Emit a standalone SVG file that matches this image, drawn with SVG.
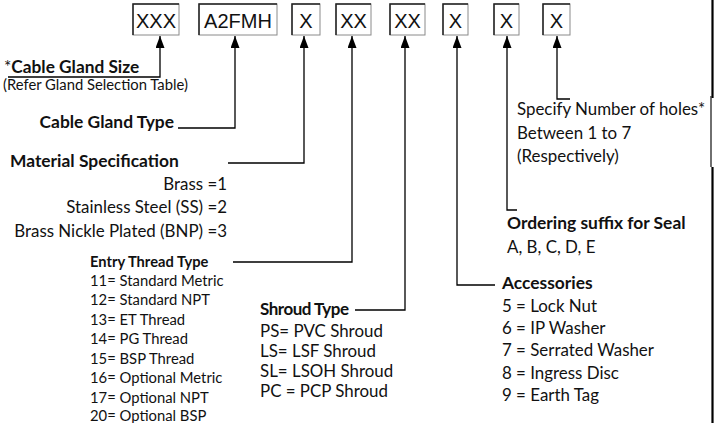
<svg xmlns="http://www.w3.org/2000/svg" width="721" height="423" viewBox="0 0 721 423">
<style>
.box{fill:#fff;stroke:#8a8a8a;stroke-width:1}
.boxtl{fill:none;stroke:#222;stroke-width:1.5}
.bl{font-family:"Liberation Sans",Arial,sans-serif;font-size:20px;fill:#111;text-anchor:middle}
.t{font-family:Lato,"Open Sans",sans-serif;font-size:16.9px;fill:#111}
.b{font-family:Lato,"Open Sans",sans-serif;font-size:17.4px;font-weight:bold;fill:#111}
.s{font-family:Lato,"Open Sans",sans-serif;font-size:14.8px;fill:#111}
.sb{font-family:Lato,"Open Sans",sans-serif;font-size:14.7px;font-weight:bold;fill:#111}
.c{fill:none;stroke:#000;stroke-width:1.3}
.r{text-anchor:end}
</style>
<defs>
<marker id="ah" markerUnits="userSpaceOnUse" markerWidth="12" markerHeight="9" refX="12" refY="4.5" orient="auto">
<path d="M0,0 L12,4.5 L0,9 z" fill="#000"/>
</marker>
</defs>
<rect width="721" height="423" fill="#fff"/>

<g id="box-size"><rect class="box" x="133" y="4" width="46" height="31"/><path class="boxtl" d="M133,35 V4 H179"/><text class="bl" x="156" y="28">XXX</text></g>
<g id="box-type"><rect class="box" x="199" y="4" width="78" height="31"/><path class="boxtl" d="M199,35 V4 H277"/><text class="bl" x="238" y="28">A2FMH</text></g>
<g id="box-material"><rect class="box" x="292" y="4" width="28" height="31"/><path class="boxtl" d="M292,35 V4 H320"/><text class="bl" x="306" y="28">X</text></g>
<g id="box-thread"><rect class="box" x="336" y="4" width="35" height="31"/><path class="boxtl" d="M336,35 V4 H371"/><text class="bl" x="353.5" y="28">XX</text></g>
<g id="box-shroud"><rect class="box" x="390" y="4" width="35" height="31"/><path class="boxtl" d="M390,35 V4 H425"/><text class="bl" x="407.5" y="28">XX</text></g>
<g id="box-accessories"><rect class="box" x="443" y="4" width="25" height="31"/><path class="boxtl" d="M443,35 V4 H468"/><text class="bl" x="455.5" y="28">X</text></g>
<g id="box-seal"><rect class="box" x="494" y="4" width="25" height="31"/><path class="boxtl" d="M494,35 V4 H519"/><text class="bl" x="506.5" y="28">X</text></g>
<g id="box-holes"><rect class="box" x="543" y="4" width="27" height="31"/><path class="boxtl" d="M543,35 V4 H570"/><text class="bl" x="556.5" y="28">X</text></g>

<g id="connectors">
<path class="c" d="M8,77 H160 V36" marker-end="url(#ah)"/>
<path class="c" d="M178,128 H235 V36" marker-end="url(#ah)"/>
<path class="c" d="M228,163 H304 V36" marker-end="url(#ah)"/>
<path class="c" d="M233,262 H352 V36" marker-end="url(#ah)"/>
<path class="c" d="M355,310 H405 V36" marker-end="url(#ah)"/>
<path class="c" d="M495,285 H457 V36" marker-end="url(#ah)"/>
<path class="c" d="M517,210 H507 V36" marker-end="url(#ah)"/>
<path class="c" d="M570,99 H557 V36" marker-end="url(#ah)"/>
</g>

<g id="border">
<path d="M712.5,0 V98" stroke="#000" stroke-width="2.2" fill="none"/>
<path d="M711,96 V167" stroke="#222" stroke-width="1.3" fill="none"/>
<path d="M712.5,167 V423" stroke="#000" stroke-width="2.2" fill="none"/>
</g>

<g id="label-size">
<text class="t" x="4" y="73" style="font-size:17.3px">*<tspan style="font-weight:bold">Cable Gland Size</tspan></text>
<text class="s" x="3" y="90">(Refer Gland Selection Table)</text>
</g>
<g id="label-type"><text class="b r" x="174" y="128">Cable Gland Type</text></g>
<g id="label-material">
<text class="b" x="10" y="167">Material Specification</text>
<text class="t r" x="227" y="190">Brass =1</text>
<text class="t r" x="227" y="213">Stainless Steel (SS) =2</text>
<text class="t r" x="227" y="237">Brass Nickle Plated (BNP) =3</text>
</g>
<g id="label-thread">
<text class="sb" x="90" y="267">Entry Thread Type</text>
<text class="s" x="90" y="285.5">11= Standard Metric</text>
<text class="s" x="90" y="305">12= Standard NPT</text>
<text class="s" x="90" y="324.5">13= ET Thread</text>
<text class="s" x="90" y="344">14= PG Thread</text>
<text class="s" x="90" y="363.5">15= BSP Thread</text>
<text class="s" x="90" y="383">16= Optional Metric</text>
<text class="s" x="90" y="402.5">17= Optional NPT</text>
<text class="s" x="90" y="421">20= Optional BSP</text>
</g>
<g id="label-shroud">
<text class="b" x="260" y="315" style="font-size:17px;letter-spacing:-0.5px">Shroud Type</text>
<text class="t" x="260" y="337">PS= PVC Shroud</text>
<text class="t" x="260" y="357">LS= LSF Shroud</text>
<text class="t" x="260" y="377">SL= LSOH Shroud</text>
<text class="t" x="260" y="397">PC = PCP Shroud</text>
</g>
<g id="label-accessories">
<text class="b" x="502" y="289">Accessories</text>
<text class="t" x="502" y="312">5 = Lock Nut</text>
<text class="t" x="502" y="334">6 = IP Washer</text>
<text class="t" x="502" y="356">7 = Serrated Washer</text>
<text class="t" x="502" y="379">8 = Ingress Disc</text>
<text class="t" x="502" y="401">9 = Earth Tag</text>
</g>
<g id="label-seal">
<text class="b" x="507" y="229">Ordering suffix for Seal</text>
<text class="t" x="507" y="253">A, B, C, D, E</text>
</g>
<g id="label-holes">
<text class="t" x="517" y="115">Specify Number of holes*</text>
<text class="t" x="517" y="139">Between 1 to 7</text>
<text class="t" x="517" y="162">(Respectively)</text>
</g>
</svg>
